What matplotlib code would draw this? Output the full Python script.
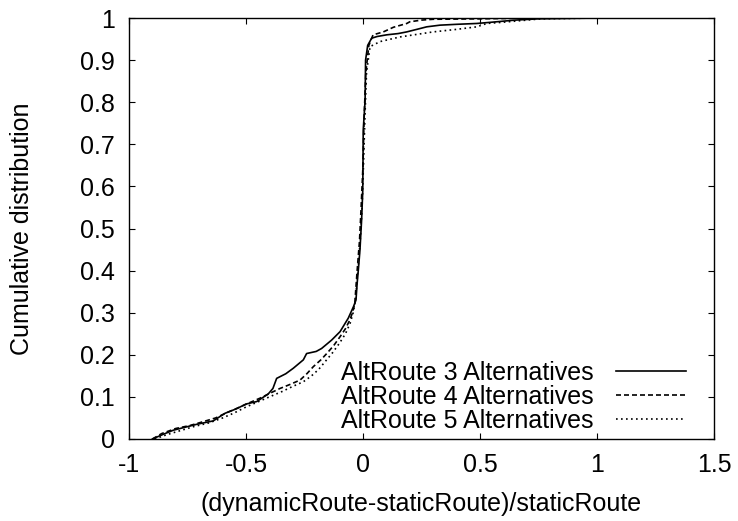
import matplotlib
matplotlib.use("Agg")
import matplotlib.pyplot as plt

plt.rcParams['font.family'] = ['Liberation Sans', 'DejaVu Sans']
plt.rcParams['font.size'] = 18

# CDF points, one pair of lists per series
x_alt3 = [-0.90, -0.85, -0.81, -0.76, -0.71, -0.64, -0.59, -0.54, -0.50, -0.454,
          -0.405, -0.385, -0.369, -0.33, -0.298, -0.255, -0.241, -0.20, -0.177, -0.134,
          -0.098, -0.063, -0.041, -0.030, -0.025, -0.020, -0.013, -0.006, -0.001, 0.001,
          0.009, 0.011, 0.02, 0.037, 0.06, 0.101, 0.15, 0.187, 0.23, 0.272,
          0.329, 0.40, 0.486, 0.55, 0.65, 0.75, 1.0, 1.30]
y_alt3 = [0.0, 0.012, 0.021, 0.028, 0.035, 0.043, 0.061, 0.072, 0.083, 0.089,
          0.107, 0.12, 0.144, 0.155, 0.168, 0.188, 0.203, 0.208, 0.215, 0.235,
          0.255, 0.287, 0.314, 0.33, 0.37, 0.401, 0.449, 0.52, 0.59, 0.734,
          0.805, 0.90, 0.935, 0.952, 0.956, 0.96, 0.963, 0.967, 0.973, 0.979,
          0.983, 0.985, 0.987, 0.99, 0.995, 0.998, 1.0, 1.0]

x_alt4 = [-0.90, -0.86, -0.80, -0.74, -0.69, -0.63, -0.58, -0.53, -0.49, -0.44,
          -0.40, -0.355, -0.31, -0.269, -0.24, -0.212, -0.18, -0.155, -0.125, -0.098,
          -0.075, -0.056, -0.045, -0.035, -0.025, -0.015, -0.008, 0.0, 0.004, 0.012,
          0.025, 0.043, 0.087, 0.13, 0.187, 0.2, 0.25, 0.30, 0.5, 0.75, 1.3]
y_alt4 = [0.0, 0.013, 0.025, 0.032, 0.04, 0.05, 0.063, 0.075, 0.085, 0.097,
          0.108, 0.12, 0.13, 0.14, 0.155, 0.172, 0.188, 0.203, 0.222, 0.243,
          0.262, 0.283, 0.30, 0.323, 0.40, 0.47, 0.55, 0.65, 0.75, 0.87,
          0.935, 0.96, 0.967, 0.978, 0.987, 0.991, 0.995, 0.997, 0.998, 1.0, 1.0]

x_alt5 = [-0.89, -0.84, -0.78, -0.72, -0.66, -0.60, -0.55, -0.50, -0.45, -0.40,
          -0.345, -0.30, -0.255, -0.22, -0.19, -0.16, -0.13, -0.10, -0.075, -0.055,
          -0.042, -0.032, -0.022, -0.012, -0.004, 0.002, 0.008, 0.015, 0.03, 0.073,
          0.158, 0.30, 0.40, 0.486, 0.529, 0.60, 0.70, 0.76, 1.0, 1.23]
y_alt5 = [0.0, 0.01, 0.02, 0.03, 0.038, 0.05, 0.062, 0.076, 0.088, 0.1,
          0.113, 0.125, 0.136, 0.15, 0.165, 0.185, 0.205, 0.228, 0.25, 0.275,
          0.30, 0.33, 0.40, 0.47, 0.55, 0.65, 0.76, 0.87, 0.932, 0.944,
          0.955, 0.967, 0.973, 0.979, 0.987, 0.990, 0.995, 0.998, 1.0, 1.0]

labels = ["AltRoute 3 Alternatives", "AltRoute 4 Alternatives", "AltRoute 5 Alternatives"]
x_ticks = [-1, -0.5, 0, 0.5, 1, 1.5]
x_ticklabels = ["-1", "-0.5", "0", "0.5", "1", "1.5"]
y_ticks = [0, 0.1, 0.2, 0.3, 0.4, 0.5, 0.6, 0.7, 0.8, 0.9, 1]
y_ticklabels = ["0", "0.1", "0.2", "0.3", "0.4", "0.5", "0.6", "0.7", "0.8", "0.9", "1"]

fig = plt.figure(figsize=(7.38, 5.21), dpi=100)
ax = fig.add_axes([129 / 738, 1 - 439 / 521, (714 - 129) / 738, (439 - 18) / 521])

ax.plot(x_alt3, y_alt3, color='black', lw=1.2, ls='-', label=labels[0])
ax.plot(x_alt4, y_alt4, color='black', lw=1.2, ls=(0, (3, 1.8)), label=labels[1])
ax.plot(x_alt5, y_alt5, color='black', lw=1.2, ls=(0, (1, 2)), label=labels[2])

ax.set_xlim(-1, 1.5)
ax.set_ylim(0, 1)
ax.set_xticks(x_ticks)
ax.set_xticklabels(x_ticklabels)
ax.set_yticks(y_ticks)
ax.set_yticklabels(y_ticklabels)
ax.tick_params(direction='in', length=4.5, width=0.8, top=True, right=True, pad=10)
for s in ax.spines.values():
    s.set_linewidth(1.0)

ax.set_xlabel("(dynamicRoute-staticRoute)/staticRoute", labelpad=11)
ax.set_ylabel("Cumulative distribution", labelpad=33)

ax.legend(loc='lower right', frameon=False, markerfirst=False, handlelength=2.8,
          labelspacing=0.0, handletextpad=0.9, borderaxespad=0.0,
          bbox_to_anchor=(0.97, -0.01))

fig.savefig("out.png", dpi=100)
